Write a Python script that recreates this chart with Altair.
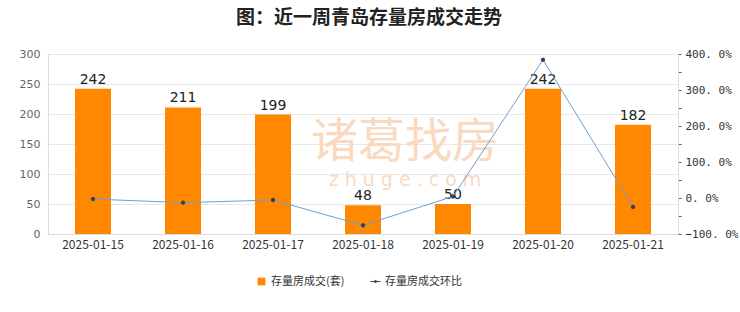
import altair as alt
import pandas as pd

dates = ["2025-01-15", "2025-01-16", "2025-01-17", "2025-01-18", "2025-01-19", "2025-01-20", "2025-01-21"]
volumes = [242, 211, 199, 48, 50, 242, 182]
ratios = [-0.03, -0.128, -0.057, -0.759, 0.042, 3.84, -0.248]

BAR_NAME = "存量房成交(套)"
LINE_NAME = "存量房成交环比"

df = pd.DataFrame({"date": dates, "vol": volumes, "ratio": ratios,
                   "s1": BAR_NAME, "s2": LINE_NAME})
wm = pd.DataFrame({"t": ["诸葛找房"]})
wm2 = pd.DataFrame({"t": ["z  h  u  g  e  .  c  o  m"]})

FONT = "Noto Sans CJK SC"

xenc = alt.X("date:N", sort=dates, title=None,
             scale=alt.Scale(paddingInner=0.6, paddingOuter=0.3),
             axis=alt.Axis(labelAngle=0, ticks=False, labelFontSize=12, labelColor="#333",
                           labelFont=FONT, labelPadding=5, domainColor="#dddddd"))

left_axis = alt.Axis(values=[0, 50, 100, 150, 200, 250, 300], ticks=False, labelColor="#666",
                     labelFontSize=11, labelPadding=8, gridColor="#e8e8e8",
                     domainColor="#dddddd", labelFont="DejaVu Sans", labelOverlap=False)
yl = alt.Y("vol:Q", title=None, scale=alt.Scale(domain=[0, 300]), axis=left_axis)

ticks_vals = [-1, -0.5, 0, 0.5, 1, 1.5, 2, 2.5, 3, 3.5, 4]
right_axis = alt.Axis(orient="right", values=ticks_vals, grid=False, tickSize=3,
                      tickColor="#555", labelColor="#333", labelFontSize=11,
                      labelFont="DejaVu Sans Mono", labelPadding=4, domainColor="#dddddd",
                      labelOverlap=False,
                      labelExpr="datum.value % 1 == 0 ? replace(format(datum.value*100, '.1f'), '.', '. ') + '%' : ''")
yr = alt.Y("ratio:Q", title=None, scale=alt.Scale(domain=[-1, 4]), axis=right_axis)

water1 = alt.Chart(wm).mark_text(font=FONT, fontSize=47, color="#f9d9c0").encode(
    text="t:N", x=alt.value(357), y=alt.value(89))
water2 = alt.Chart(wm2).mark_text(font="DejaVu Sans", fontSize=19, color="#f9d9c0").encode(
    text="t:N", x=alt.value(357), y=alt.value(126))

bars = alt.Chart(df).mark_bar(color="#ff8800").encode(
    x=xenc,
    y=yl,
    color=alt.Color("s1:N", scale=alt.Scale(domain=[BAR_NAME], range=["#ff8800"]),
                    legend=alt.Legend(title=None, orient="none", legendX=208, legendY=222,
                                      symbolType="square", symbolSize=60, labelFontSize=11,
                                      labelFont=FONT, labelColor="#333")),
)

labels = alt.Chart(df).mark_text(dy=-9, fontSize=14, color="#222", font="DejaVu Sans").encode(
    x=xenc,
    y=yl,
    text="vol:Q",
)

line = alt.Chart(df).mark_line(color="#6d9fd4", strokeWidth=1).encode(
    x=xenc,
    y=yr,
)
pts = alt.Chart(df).mark_point(filled=False, fill="#2b4260", fillOpacity=1, size=12,
                               strokeWidth=1, opacity=1).encode(
    x=xenc,
    y=yr,
    stroke=alt.Stroke("s2:N", scale=alt.Scale(domain=[LINE_NAME], range=["#2b4260"]),
                      legend=alt.Legend(title=None, orient="none", legendX=322, legendY=222,
                                        symbolType="M-1,0L1,0M-0.22,0a0.22,0.22 0 1,0 0.44,0a0.22,0.22 0 1,0 -0.44,0",
                                        symbolSize=100, symbolStrokeWidth=1,
                                        symbolFillColor="#2b4260",
                                        labelFontSize=11, labelFont=FONT, labelColor="#333")),
)

left = alt.layer(bars, labels)
right = alt.layer(line, pts)

chart = alt.layer(water1, water2, left, right).resolve_scale(
    y="independent", color="independent", stroke="independent"
).properties(
    width=630, height=180,
    autosize=alt.AutoSizeParams(type="none"),
    padding={"left": 48, "top": 54, "right": 62, "bottom": 78},
    background="white",
    title=alt.TitleParams("图：近一周青岛存量房成交走势", fontSize=19, font=FONT, fontWeight="bold",
                          color="#222", anchor="middle", offset=20, dx=6),
).configure_view(stroke="#e4e4e4")

chart.save("out.html", embed_options={"renderer": "svg", "actions": False})
